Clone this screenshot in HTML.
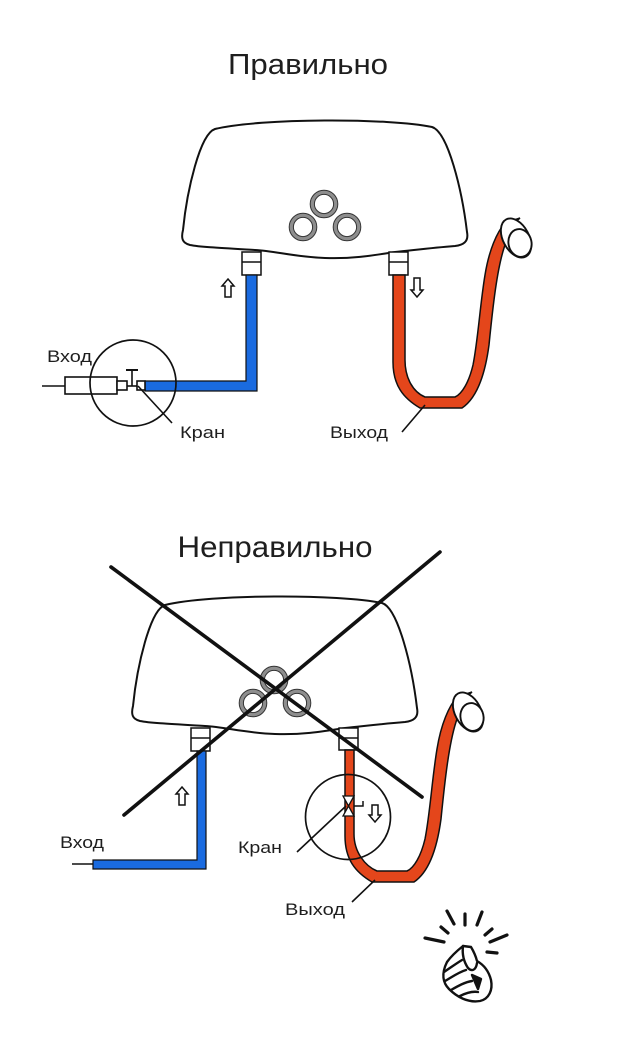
<!DOCTYPE html>
<html>
<head>
<meta charset="utf-8">
<style>
  html,body{margin:0;padding:0;background:#fff;}
  svg{display:block;}
  text{font-family:"Liberation Sans","DejaVu Sans",sans-serif;fill:#1e1e1e;}
</style>
</head>
<body>
<svg width="620" height="1039" viewBox="0 0 620 1039" xmlns="http://www.w3.org/2000/svg">
  <defs>
    <g id="heater">
      <path d="M 215 129 C 260 118 390 118 432 127 C 448 132 462 190 467 232 C 469 242 463 245 455 246 C 430 248 415 250 395 252 C 370 256 350 259 325 258 C 295 257 275 251 255 250 C 220 248 200 247 190 245 C 182 243 181 238 183 230 C 187 190 200 134 215 129 Z" fill="#fff" stroke="#111" stroke-width="2"/>
      <g fill="none">
        <circle cx="324" cy="204" r="11.7" stroke="#8e8e8e" stroke-width="3.6"/>
        <circle cx="324" cy="204" r="13.8" stroke="#333" stroke-width="1"/>
        <circle cx="324" cy="204" r="9.6" stroke="#333" stroke-width="1"/>
        <circle cx="303" cy="227" r="11.7" stroke="#8e8e8e" stroke-width="3.6"/>
        <circle cx="303" cy="227" r="13.8" stroke="#333" stroke-width="1"/>
        <circle cx="303" cy="227" r="9.6" stroke="#333" stroke-width="1"/>
        <circle cx="347" cy="227" r="11.7" stroke="#8e8e8e" stroke-width="3.6"/>
        <circle cx="347" cy="227" r="13.8" stroke="#333" stroke-width="1"/>
        <circle cx="347" cy="227" r="9.6" stroke="#333" stroke-width="1"/>
      </g>
    </g>
  </defs>

  <!-- ============ TOP: Правильно ============ -->
  <text x="308" y="74" font-size="29" text-anchor="middle" textLength="160" lengthAdjust="spacingAndGlyphs">Правильно</text>

  <use href="#heater"/>

  <!-- fittings -->
  <g fill="#fff" stroke="#111" stroke-width="1.5">
    <rect x="242" y="252" width="19" height="23"/>
    <line x1="242" y1="262" x2="261" y2="262"/>
    <rect x="389" y="252" width="19" height="23"/>
    <line x1="389" y1="262" x2="408" y2="262"/>
  </g>

  <!-- arrows -->
  <path d="M 228 279 L 234 286 L 231 286 L 231 297 L 225 297 L 225 286 L 222 286 Z" fill="#fff" stroke="#111" stroke-width="1.5"/>
  <path d="M 417 297 L 423 290 L 420 290 L 420 278 L 414 278 L 414 290 L 411 290 Z" fill="#fff" stroke="#111" stroke-width="1.5"/>

  <!-- blue pipe -->
  <path d="M 246 275 L 257 275 L 257 391 L 145 391 L 145 381 L 246 381 Z" fill="#1a6be0" stroke="#111" stroke-width="1.2"/>

  <!-- inlet assembly -->
  <g stroke="#111" stroke-width="1.6" fill="#fff">
    <line x1="42" y1="386" x2="65" y2="386"/>
    <rect x="65" y="377" width="52" height="17"/>
    <rect x="117" y="381" width="10" height="9"/>
    <line x1="127" y1="386" x2="137" y2="386"/>
    <line x1="132" y1="370" x2="132" y2="386"/>
    <line x1="126" y1="370" x2="138" y2="370" stroke-width="2"/>
    <rect x="137" y="381" width="8" height="9"/>
  </g>
  <circle cx="133" cy="383" r="43" fill="none" stroke="#111" stroke-width="1.7"/>
  <line x1="138" y1="386" x2="172" y2="423" stroke="#111" stroke-width="1.6"/>

  <text x="47" y="362" font-size="17" textLength="45" lengthAdjust="spacingAndGlyphs">Вход</text>
  <text x="180" y="438" font-size="17" textLength="45" lengthAdjust="spacingAndGlyphs">Кран</text>

  <!-- red hose top -->
  <path d="M 393 275 L 393 362 C 393 385 403 398 420 408 L 462 408 C 477 398 485 375 489 345 C 493 305 497 270 504 248 C 508 235 512 224 520 218 L 505 223 C 497 232 489 250 485 275 C 480 305 478 340 473 365 C 469 382 462 394 455 397 L 425 397 C 413 392 405 378 405 360 L 405 275 Z" fill="#e4461b" stroke="#111" stroke-width="1.5"/>
  <ellipse cx="516" cy="238" rx="13" ry="21" transform="rotate(-28 516 238)" fill="#fff" stroke="#111" stroke-width="1.9"/>
  <ellipse cx="520" cy="243" rx="11.5" ry="14" transform="rotate(-12 520 243)" fill="#fff" stroke="#111" stroke-width="1.9"/>

  <line x1="402" y1="432" x2="425" y2="405" stroke="#111" stroke-width="1.6"/>
  <text x="330" y="438" font-size="17" textLength="58" lengthAdjust="spacingAndGlyphs">Выход</text>

  <!-- ============ BOTTOM: Неправильно ============ -->
  <text x="275" y="557" font-size="30" text-anchor="middle" textLength="195" lengthAdjust="spacingAndGlyphs">Неправильно</text>

  <use href="#heater" transform="translate(-50,476)"/>

  <g fill="#fff" stroke="#111" stroke-width="1.5">
    <rect x="191" y="728" width="19" height="23"/>
    <line x1="191" y1="738" x2="210" y2="738"/>
    <rect x="339" y="728" width="19" height="22"/>
    <line x1="339" y1="738" x2="358" y2="738"/>
  </g>

  <!-- blue pipe bottom -->
  <path d="M 197 751 L 206 751 L 206 869 L 93 869 L 93 860 L 197 860 Z" fill="#1a6be0" stroke="#111" stroke-width="1.2"/>
  <line x1="72" y1="864" x2="93" y2="864" stroke="#111" stroke-width="1.4"/>
  <path d="M 182 787 L 188 794 L 185 794 L 185 805 L 179 805 L 179 794 L 176 794 Z" fill="#fff" stroke="#111" stroke-width="1.5"/>
  <text x="60" y="848" font-size="17" textLength="44" lengthAdjust="spacingAndGlyphs">Вход</text>

  <!-- red hose bottom -->
  <path d="M 345 750 L 345 836 C 345 859 355 872 372 882 L 414 882 C 429 872 437 849 441 819 C 445 779 449 744 456 722 C 460 709 464 698 472 692 L 457 697 C 449 706 441 724 437 749 C 432 779 430 814 425 839 C 421 856 414 868 407 871 L 377 871 C 365 866 354 852 354 834 L 354 750 Z" fill="#e4461b" stroke="#111" stroke-width="1.5"/>
  <ellipse cx="468" cy="712" rx="13" ry="21" transform="rotate(-28 468 712)" fill="#fff" stroke="#111" stroke-width="1.9"/>
  <ellipse cx="472" cy="717" rx="11.5" ry="14" transform="rotate(-12 472 717)" fill="#fff" stroke="#111" stroke-width="1.9"/>

  <!-- valve on red pipe -->
  <g stroke="#111" stroke-width="1.3" fill="#fff">
    <path d="M 343 796 L 354 796 L 348.5 806 Z"/>
    <path d="M 348.5 806 L 343 816 L 354 816 Z"/>
    <polyline points="354,806 363,806 363,801" fill="none" stroke-width="1.5"/>
  </g>
  <path d="M 375 822 L 381 815 L 378 815 L 378 805 L 372 805 L 372 815 L 369 815 Z" fill="#fff" stroke="#111" stroke-width="1.5"/>
  <circle cx="348" cy="817" r="42.5" fill="none" stroke="#111" stroke-width="1.7"/>
  <line x1="297" y1="852" x2="346" y2="806" stroke="#111" stroke-width="1.6"/>
  <text x="238" y="853" font-size="17" textLength="44" lengthAdjust="spacingAndGlyphs">Кран</text>

  <line x1="352" y1="902" x2="375" y2="880" stroke="#111" stroke-width="1.6"/>
  <text x="285" y="915" font-size="17" textLength="60" lengthAdjust="spacingAndGlyphs">Выход</text>

  <!-- cross -->
  <line x1="111" y1="567" x2="422" y2="797" stroke="#111" stroke-width="3.6" stroke-linecap="round"/>
  <line x1="440" y1="552" x2="124" y2="815" stroke="#111" stroke-width="3.6" stroke-linecap="round"/>

  <!-- snapping hand icon -->
  <g stroke="#111" stroke-width="3.2" stroke-linecap="round" fill="none">
    <line x1="447" y1="911" x2="454" y2="924"/>
    <line x1="465" y1="914" x2="465" y2="925"/>
    <line x1="482" y1="912" x2="477" y2="925"/>
    <line x1="492" y1="929" x2="485" y2="935"/>
    <line x1="507" y1="935" x2="490" y2="942"/>
    <line x1="497" y1="953" x2="487" y2="952"/>
    <line x1="425" y1="938" x2="444" y2="942"/>
    <line x1="441" y1="927" x2="448" y2="933"/>
  </g>
  <g stroke="#111" stroke-width="2.4" stroke-linejoin="round" stroke-linecap="round" fill="#fff">
    <!-- fist body -->
    <path d="M 447 962 C 452 955 458 950 463 946 L 471 947 C 474 952 476 957 477 961 C 484 965 489 972 491 980 C 493 990 489 999 480 1001 C 468 1003 457 997 449 989 C 443 983 441 974 447 962 Z"/>
    <!-- thumb -->
    <path d="M 463 946 C 462 954 464 962 468 968 C 472 972 476 970 477 963"/>
    <!-- fingers -->
    <path d="M 444 972 C 450 968 457 963 462 960" fill="none"/>
    <path d="M 445 981 C 452 977 459 972 466 970" fill="none"/>
    <path d="M 451 990 C 458 986 465 982 472 981" fill="none"/>
    <path d="M 460 996 C 466 993 472 991 478 992" fill="none"/>
    <path d="M 472 975 L 481 979 L 478 989 Z" fill="#111"/>
  </g>
</svg>
</body>
</html>
